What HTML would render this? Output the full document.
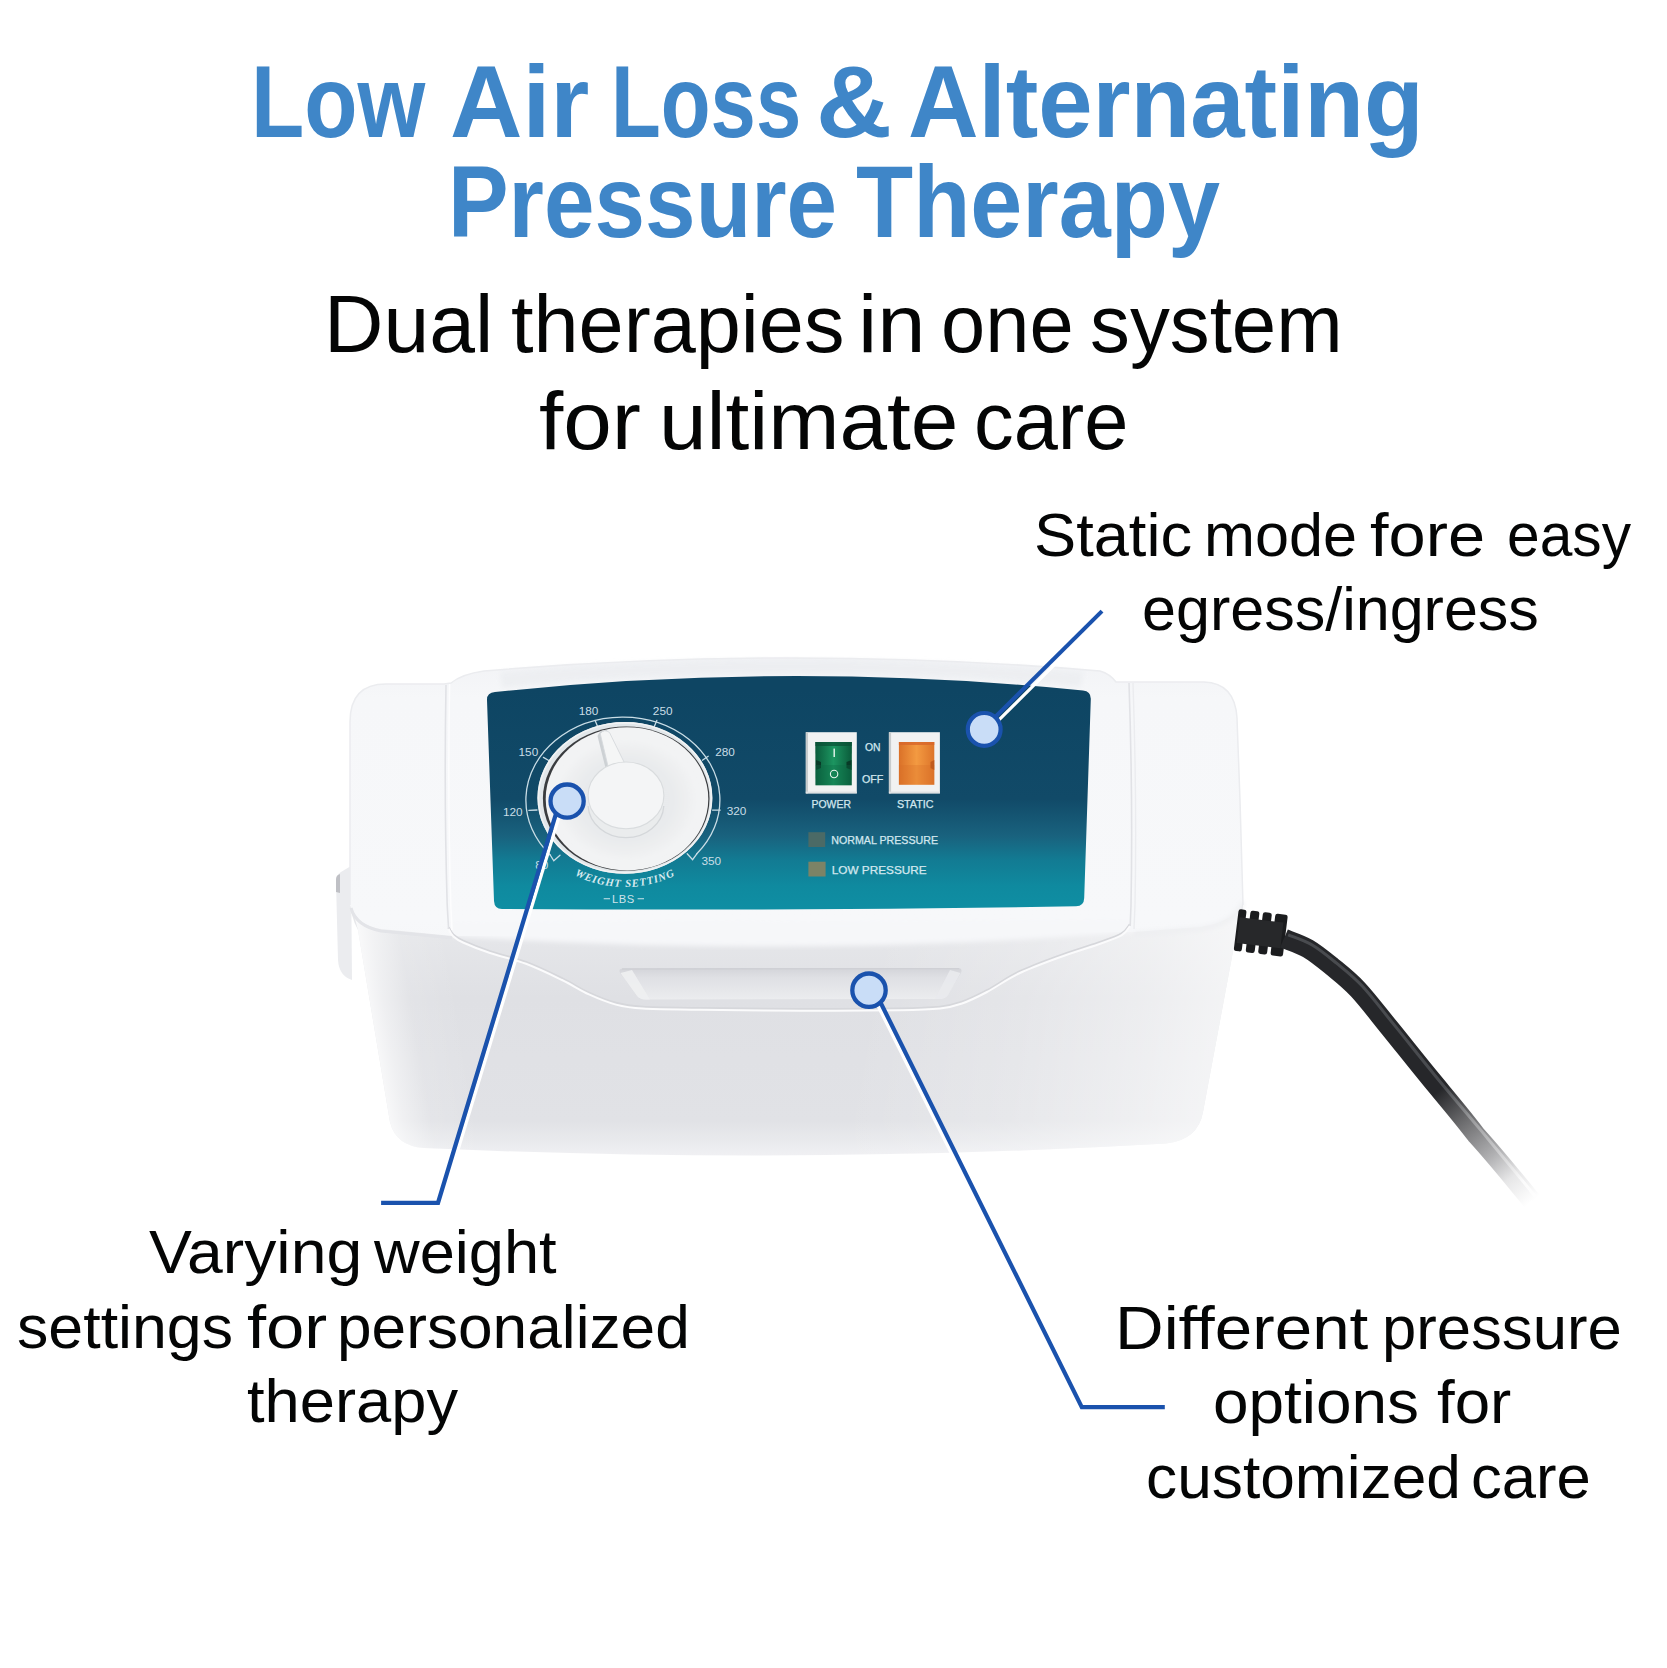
<!DOCTYPE html>
<html lang="en">
<head>
<meta charset="utf-8">
<title>Low Air Loss &amp; Alternating Pressure Therapy</title>
<style>
html,body{margin:0;padding:0;background:#fff;}
body{width:1667px;height:1668px;position:relative;overflow:hidden;font-family:"Liberation Sans",sans-serif;}
.t{position:absolute;white-space:nowrap;transform-origin:0 0;color:#040505;margin:0;}
.h{font-weight:700;font-size:102px;line-height:102px;color:#3f86c8;}
.s{font-weight:400;font-size:82px;line-height:82px;}
.c{font-weight:400;font-size:61px;line-height:61px;}
#art{position:absolute;left:0;top:0;width:1667px;height:1668px;}
</style>
</head>
<body>
<svg id="art" width="1667" height="1668" viewBox="0 0 1667 1668">
<defs>
  <linearGradient id="gPanel" x1="0" y1="690" x2="0" y2="908" gradientUnits="userSpaceOnUse">
    <stop offset="0" stop-color="#0e4563"/>
    <stop offset="0.5" stop-color="#114a68"/>
    <stop offset="0.67" stop-color="#19627e"/>
    <stop offset="0.78" stop-color="#127b93"/>
    <stop offset="0.9" stop-color="#0f8a9f"/>
    <stop offset="1" stop-color="#0f8ea3"/>
  </linearGradient>
  <linearGradient id="gFront" x1="0" y1="930" x2="0" y2="1155" gradientUnits="userSpaceOnUse">
    <stop offset="0" stop-color="#e6e7ea"/>
    <stop offset="0.3" stop-color="#dfe0e4"/>
    <stop offset="0.85" stop-color="#e1e2e6"/>
    <stop offset="0.94" stop-color="#e9eaed"/>
    <stop offset="1" stop-color="#f0f0f3"/>
  </linearGradient>
  <linearGradient id="gFL" x1="202.7" y1="0" x2="292.7" y2="0" gradientUnits="userSpaceOnUse" gradientTransform="skewX(9.48)">
    <stop offset="0" stop-color="#ffffff" stop-opacity="0.75"/>
    <stop offset="0.15" stop-color="#ffffff" stop-opacity="0.5"/>
    <stop offset="0.45" stop-color="#ffffff" stop-opacity="0.12"/>
    <stop offset="1" stop-color="#ffffff" stop-opacity="0"/>
  </linearGradient>
  <linearGradient id="gFR" x1="1050.9" y1="0" x2="1410.9" y2="0" gradientUnits="userSpaceOnUse" gradientTransform="skewX(-10.6)">
    <stop offset="0" stop-color="#ffffff" stop-opacity="0"/>
    <stop offset="0.45" stop-color="#ffffff" stop-opacity="0.2"/>
    <stop offset="0.8" stop-color="#ffffff" stop-opacity="0.45"/>
    <stop offset="1" stop-color="#ffffff" stop-opacity="0.62"/>
  </linearGradient>
  <linearGradient id="gRecess" x1="0" y1="968" x2="0" y2="1000" gradientUnits="userSpaceOnUse">
    <stop offset="0" stop-color="#d3d4d9"/>
    <stop offset="0.3" stop-color="#dfe0e4"/>
    <stop offset="0.7" stop-color="#e6e7ea"/>
    <stop offset="1" stop-color="#ecedef"/>
  </linearGradient>
  <linearGradient id="gTop" x1="0" y1="655" x2="0" y2="1010" gradientUnits="userSpaceOnUse">
    <stop offset="0" stop-color="#f1f2f5"/>
    <stop offset="0.12" stop-color="#f6f7f9"/>
    <stop offset="0.75" stop-color="#f7f8fa"/>
    <stop offset="1" stop-color="#f3f4f6"/>
  </linearGradient>
  <linearGradient id="gCable" x1="1440" y1="1090" x2="1530" y2="1203" gradientUnits="userSpaceOnUse">
    <stop offset="0" stop-color="#26272a"/>
    <stop offset="0.28" stop-color="#6e6e70"/>
    <stop offset="0.58" stop-color="#b0b0b2"/>
    <stop offset="0.78" stop-color="#e6e6e7"/>
    <stop offset="1" stop-color="#ffffff"/>
  </linearGradient>
  <linearGradient id="gCableHi" x1="1440" y1="1090" x2="1530" y2="1203" gradientUnits="userSpaceOnUse">
    <stop offset="0" stop-color="#55585c"/>
    <stop offset="0.28" stop-color="#a5a6a8"/>
    <stop offset="0.58" stop-color="#d6d6d7"/>
    <stop offset="0.85" stop-color="#ffffff"/>
    <stop offset="1" stop-color="#ffffff"/>
  </linearGradient>
  <radialGradient id="gKnob" cx="626" cy="800" r="82" gradientUnits="userSpaceOnUse" gradientTransform="translate(0 108) scale(1 0.865)">
    <stop offset="0" stop-color="#eaecee"/>
    <stop offset="0.55" stop-color="#e8eaec"/>
    <stop offset="0.8" stop-color="#f0f1f2"/>
    <stop offset="1" stop-color="#f4f5f6"/>
  </radialGradient>
  <linearGradient id="gGreen" x1="815" y1="0" x2="852" y2="0" gradientUnits="userSpaceOnUse">
    <stop offset="0" stop-color="#0a5a3a"/>
    <stop offset="0.5" stop-color="#1c9560"/>
    <stop offset="1" stop-color="#0a5a3a"/>
  </linearGradient>
  <linearGradient id="gOrange" x1="898" y1="0" x2="935" y2="0" gradientUnits="userSpaceOnUse">
    <stop offset="0" stop-color="#d96f27"/>
    <stop offset="0.5" stop-color="#f39a41"/>
    <stop offset="1" stop-color="#dc7329"/>
  </linearGradient>
  <filter id="soft" x="-5%" y="-5%" width="110%" height="110%"><feGaussianBlur stdDeviation="0.6"/></filter>
  <filter id="soft2" x="-10%" y="-10%" width="120%" height="120%"><feGaussianBlur stdDeviation="2.5"/></filter>
  <filter id="soft3" x="-10%" y="-10%" width="120%" height="120%"><feGaussianBlur stdDeviation="6"/></filter>
</defs>
<!--DEFS-END-->
<g id="device">
  <!-- far-left latch -->
  <path d="M351 866 L341 872 Q336 875 336 882 L338 960 Q339 976 352 980 Z" fill="#ebecef"/>
  <path d="M340 874 L338 875 Q336 876 336 880 L336 892 L340 893 Z" fill="#bfc0c5" filter="url(#soft)"/>
  <!-- body silhouette / front face -->
  <path id="sil" d="M350 722 Q350 684 386 684 L444 684 L451 683 Q462 674 484 671 Q792 645 1100 671 Q1110 674 1116 682 L1204 682 Q1235 683 1237 718 L1240 800 L1243 905 Q1243 920 1237 930 L1203 1112 Q1198 1140 1166 1143.5 Q800 1165 424 1148 Q396 1146 390 1122 L358 930 Q350 915 350 900 Z" fill="url(#gFront)"/>
  <path d="M350 900 L358 930 L390 1122 Q396 1146 424 1148 Q800 1165 1166 1143.5 Q1198 1140 1203 1112 L1237 930 L1243 900 Z" fill="url(#gFL)"/>
  <path d="M350 900 L358 930 L390 1122 Q396 1146 424 1148 Q800 1165 1166 1143.5 Q1198 1140 1203 1112 L1237 930 L1243 900 Z" fill="url(#gFR)"/>
  <!-- top face (brighter) -->
  <path id="topface" d="M350 722 Q350 684 386 684 L444 684 L451 683 Q462 674 484 671 Q792 645 1100 671 Q1110 674 1116 682 L1204 682 Q1235 683 1237 718 L1240 800 L1243 900 Q1238 921 1200 927 L1134 932 L452 936 L381 929 Q355 925 350 905 Z" fill="url(#gTop)"/>
  <!-- soft bevel between top face and front in the centre -->
  <path d="M452 922 L1134 920 L1134 932 Q793 959 452 936 Z" fill="#f6f7f9" filter="url(#soft2)"/>
  <!-- region between bevel and groove slightly lighter -->
  <!-- bevel under top edge -->
  <path d="M500 672 Q792 647 1084 672 L1080 687 Q790 660 502 688 Z" fill="#eceef1" opacity="0.85" filter="url(#soft2)"/>
  <!-- groove (wave) highlight + shadow -->
  <path d="M448.6 929.0 C449.3 930.2 450.6 933.8 453.0 936.0 C455.4 938.2 456.8 939.7 463.0 942.5 C469.2 945.3 479.5 949.5 490.0 953.0 C500.5 956.5 514.0 959.3 526.0 963.8 C538.0 968.3 551.5 974.9 562.0 980.0 C572.5 985.1 580.0 990.3 589.0 994.4 C598.0 998.5 607.0 1002.2 616.0 1004.6 C625.0 1007.0 629.0 1007.7 643.0 1008.6 C657.0 1009.5 673.8 1009.4 700.0 1009.8 C726.2 1010.2 766.7 1010.7 800.0 1010.8 C833.3 1010.9 876.7 1010.7 900.0 1010.3 C923.3 1009.9 929.7 1009.6 940.0 1008.5 C950.3 1007.4 954.2 1006.2 962.0 1003.5 C969.8 1000.8 977.5 997.0 987.0 992.0 C996.5 987.0 1006.9 979.2 1018.8 973.5 C1030.7 967.8 1045.2 962.5 1058.4 957.7 C1071.6 952.9 1087.5 948.2 1098.0 944.5 C1108.5 940.8 1116.4 938.3 1121.7 935.2 C1127.0 932.1 1128.6 927.5 1130.0 926.0" fill="none" stroke="#d6d7db" stroke-width="2.4" transform="translate(0 -1.6)" filter="url(#soft)"/>
  <path d="M448.6 929.0 C449.3 930.2 450.6 933.8 453.0 936.0 C455.4 938.2 456.8 939.7 463.0 942.5 C469.2 945.3 479.5 949.5 490.0 953.0 C500.5 956.5 514.0 959.3 526.0 963.8 C538.0 968.3 551.5 974.9 562.0 980.0 C572.5 985.1 580.0 990.3 589.0 994.4 C598.0 998.5 607.0 1002.2 616.0 1004.6 C625.0 1007.0 629.0 1007.7 643.0 1008.6 C657.0 1009.5 673.8 1009.4 700.0 1009.8 C726.2 1010.2 766.7 1010.7 800.0 1010.8 C833.3 1010.9 876.7 1010.7 900.0 1010.3 C923.3 1009.9 929.7 1009.6 940.0 1008.5 C950.3 1007.4 954.2 1006.2 962.0 1003.5 C969.8 1000.8 977.5 997.0 987.0 992.0 C996.5 987.0 1006.9 979.2 1018.8 973.5 C1030.7 967.8 1045.2 962.5 1058.4 957.7 C1071.6 952.9 1087.5 948.2 1098.0 944.5 C1108.5 940.8 1116.4 938.3 1121.7 935.2 C1127.0 932.1 1128.6 927.5 1130.0 926.0" fill="none" stroke="#fbfbfc" stroke-width="2"/>
  <!-- cap front-edge soft shadow -->
  <path d="M351 908 Q356 926 381 931 L452 938" fill="none" stroke="#e3e4e8" stroke-width="3" filter="url(#soft)"/>
  <path d="M1134 934 L1200 929 Q1236 923 1243 902" fill="none" stroke="#ecedf0" stroke-width="3" filter="url(#soft2)"/>
  <!-- seams -->
  <path d="M446 685 Q444 800 447.2 905 L448.6 929" fill="none" stroke="#e1e2e6" stroke-width="1.6"/>
  <path d="M449.6 684 Q447.6 800 450.8 905 L452 930" fill="none" stroke="#fdfdfe" stroke-width="1.5"/>
  <path d="M1129 683 Q1133 800 1131 905 L1130.2 926" fill="none" stroke="#e1e2e6" stroke-width="1.6"/>
  <path d="M1133 683 Q1137 800 1135 905 L1134 929" fill="none" stroke="#ebecef" stroke-width="1.4"/>
  <!-- subtle silhouette edge -->
  <path d="M350 905 L350 722 Q350 684 386 684 L444 684 L451 683 Q462 674 484 671 Q792 645 1100 671 Q1110 674 1116 682 L1204 682 Q1235 683 1237 718 L1240 800 L1243 905" fill="none" stroke="#ebecef" stroke-width="1.5"/>
  <!-- handle recess -->
  <path d="M623 968.6 L958 968 Q963.5 968.5 960.5 974 L948 995 Q945.5 999 939 999 L646 999.5 Q639 999.3 636.5 995 L620.5 974 Q617.5 968.8 623 968.6 Z" fill="url(#gRecess)"/>
  <path d="M620.5 973 L636.5 995 Q639 999.3 646 999.5 L650 999.5 L632 970 Z" fill="#eeeff1" opacity="0.9"/>
  <path d="M960.5 973 L948 995 Q945.5 999 939 999 L935 999 L950 970 Z" fill="#e9eaed" opacity="0.9"/>
  <path d="M622 969 L959 968.4" fill="none" stroke="#cfd0d5" stroke-width="1.6" filter="url(#soft)"/>
</g>
<g id="panel">
  <!-- teal label -->
  <path d="M495 692 Q790 661 1083 690.5 Q1091 691.5 1090.8 699 L1084.2 898 Q1084 906 1076 906.3 Q790 911 502 909 Q494.5 909 494 901 L487 700 Q486.8 692.6 495 692 Z" fill="url(#gPanel)"/>
  <!-- dial scale -->
  <g fill="none" stroke="#c9dde6" stroke-width="1.3" stroke-linecap="round">
    <path d="M550.2 855 A97 83 0 1 1 696.8 853.8"/>
    <path d="M550.2 855 L553.8 860.8 L560 855.3"/>
    <path d="M696.8 853.8 L692.6 859.7 L687.2 853.8"/>
    <path d="M528.9 810.4 L537 810"/>
    <path d="M543.4 757.4 L550 761.2"/>
    <path d="M595.1 720.4 L597.6 726.6"/>
    <path d="M656.8 720.4 L654.3 726.6"/>
    <path d="M708.2 756.3 L702.4 760.2"/>
    <path d="M720.2 810.1 L712.5 810.1"/>
  </g>
  <g font-family="'Liberation Sans',sans-serif" font-size="11.8" fill="#c9dde6" text-anchor="middle">
    <text x="588.6" y="714.8">180</text>
    <text x="662.7" y="714.5">250</text>
    <text x="528.4" y="756.3">150</text>
    <text x="725.1" y="755.8">280</text>
    <text x="512.8" y="815.5">120</text>
    <text x="736.6" y="814.6">320</text>
    <text x="711.3" y="864.5">350</text>
    <text x="541.8" y="868.9">80</text>
  </g>
  <!-- knob -->
  <ellipse cx="624.9" cy="797.9" rx="87.5" ry="75.9" fill="#e2e7ea"/>
  <ellipse cx="624.9" cy="797.9" rx="86.6" ry="75" fill="none" stroke="#f1f3f4" stroke-width="1.6"/>
  <ellipse cx="626.2" cy="798.6" rx="83.3" ry="72.2" fill="#3a3c3f"/>
  <ellipse cx="627.0" cy="798.8" rx="81.3" ry="71.6" fill="#f2f3f4"/>
  <ellipse cx="626.7" cy="800" rx="68" ry="58" fill="url(#gKnob)" filter="url(#soft2)"/>
  <!-- cap wall -->
  <path d="M588.1 795.4 L588.1 806 A37.9 33.4 0 0 0 663.8 806 L663.8 795.4 Z" fill="#eaeced"/>
  <path d="M588.1 806 A37.9 33.4 0 0 0 663.8 806" fill="none" stroke="#d4d7da" stroke-width="1.3"/>
  <!-- pointer -->
  <path d="M597.5 736 Q600 729 607 730 L613 768 L606 770 Z" fill="#cdd1d4" filter="url(#soft)"/>
  <path d="M600.2 733.5 Q604.5 728.5 609.5 732.5 L625.5 765 L609 770.5 Z" fill="#f5f6f6" stroke="#d6d9dc" stroke-width="0.9"/>
  <ellipse cx="626" cy="795.4" rx="37.9" ry="33.4" fill="#f4f5f6" stroke="#d9dcde" stroke-width="1.1"/>
  <!-- weight setting text -->
  <path id="wsArc" d="M543 850 A101 89 0 0 0 707 850" fill="none"/>
  <text font-family="'Liberation Serif',serif" font-weight="700" font-style="italic" font-size="10.8" fill="#d8eaef" letter-spacing="0.85"><textPath href="#wsArc" startOffset="50%" text-anchor="middle">WEIGHT SETTING</textPath></text>
  <text x="623.3" y="902.6" font-family="'Liberation Sans',sans-serif" font-size="11.2" fill="#cfe3ea" text-anchor="middle" letter-spacing="0.5">LBS</text>
  <path d="M603.7 898.8 H610 M637.6 898.8 H644" stroke="#cfe3ea" stroke-width="1.1" fill="none"/>
</g>
<g id="switches">
  <!-- power -->
  <rect x="805.8" y="732.2" width="51" height="61.2" fill="#f1f2f2"/>
  <rect x="805.8" y="732.2" width="2.2" height="61.2" fill="#c8cccd"/>
  <rect x="805.8" y="791.6" width="51" height="1.8" fill="#dfe2e3"/>
  <path d="M815.3 741.9 L851.9 741.9 L851.7 785.3 L815.5 785.3 Z" fill="url(#gGreen)"/>
  <path d="M815.3 741.9 L851.9 741.9 L851.7 746 L815.4 746 Z" fill="#0a4f34" opacity="0.7"/>
  <path d="M816 760 L821 762 L821 768 L816 770 Z M851.5 760 L846.5 762 L846.5 768 L851.5 770 Z" fill="#083a27"/>
  <rect x="815.5" y="765" width="36.3" height="20.3" fill="#0c6a45" opacity="0.35"/>
  <rect x="833.5" y="748.6" width="1.4" height="8.4" fill="#e8f5ee"/>
  <circle cx="834.1" cy="774" r="3.7" fill="none" stroke="#e8f5ee" stroke-width="1.1"/>
  <!-- static -->
  <rect x="888.9" y="732.2" width="51" height="61.2" fill="#f1f2f2"/>
  <rect x="888.9" y="732.2" width="2.2" height="61.2" fill="#c8cccd"/>
  <rect x="888.9" y="791.6" width="51" height="1.8" fill="#dfe2e3"/>
  <path d="M898.9 741.9 L934.3 741.9 L934.3 784.8 L898.9 784.8 Z" fill="url(#gOrange)"/>
  <path d="M898.9 741.9 L934.3 741.9 L934.3 745 L898.9 745 Z" fill="#d7662a" opacity="0.8"/>
  <rect x="898.9" y="765" width="35.4" height="19.8" fill="#d86e28" opacity="0.3"/>
  <path d="M934.3 760 L930.5 762 L930.5 768 L934.3 770 Z" fill="#b9551c" opacity="0.8"/>
  <!-- leds -->
  <rect x="808.4" y="832.2" width="16.8" height="14.8" fill="#4b6a66"/>
  <rect x="808.4" y="861.7" width="17.2" height="14.8" fill="#7c8366"/>
  <!-- labels -->
  <g font-family="'Liberation Sans',sans-serif" font-size="10" fill="#d2e7ee" stroke="#d2e7ee" stroke-width="0.25">
    <text x="864.9" y="750.8" textLength="15.6" lengthAdjust="spacingAndGlyphs">ON</text>
    <text x="861.9" y="782.6" textLength="21.4" lengthAdjust="spacingAndGlyphs">OFF</text>
    <text x="811.6" y="807.9" textLength="39.3" lengthAdjust="spacingAndGlyphs">POWER</text>
    <text x="896.9" y="807.9" textLength="36.7" lengthAdjust="spacingAndGlyphs">STATIC</text>
    <text x="831.3" y="843.9" textLength="106.8" lengthAdjust="spacingAndGlyphs">NORMAL PRESSURE</text>
    <text x="831.8" y="873.5" textLength="94.8" lengthAdjust="spacingAndGlyphs">LOW PRESSURE</text>
  </g>
</g>
<g id="cable">
  <!-- strain relief -->
  <g transform="rotate(7 1262 933)">
    <rect x="1236" y="912" width="8" height="42" rx="2.5" fill="#1b1c1e"/>
    <rect x="1248" y="912" width="9" height="42" rx="2.5" fill="#1b1c1e"/>
    <rect x="1260.5" y="912" width="9" height="42" rx="2.5" fill="#1b1c1e"/>
    <rect x="1273" y="912" width="12.5" height="42" rx="2.5" fill="#1b1c1e"/>
    <rect x="1238" y="920" width="44" height="26" fill="#27282a"/>
  </g>
  <path id="cablePath" d="M1284.0 938.5 C1288.0 940.2 1300.0 943.9 1308.0 948.6 C1316.0 953.3 1323.7 959.7 1332.0 966.5 C1340.3 973.3 1348.4 979.4 1358.0 989.6 C1367.6 999.9 1377.4 1013.0 1389.6 1028.0 C1401.8 1043.0 1416.8 1062.0 1431.4 1079.8 C1446.0 1097.5 1462.8 1117.1 1476.2 1135.0 C1491.6 1151.9 1507.4 1171.1 1518.0 1184.0 C1528.6 1196.9 1537.2 1207.3 1541.0 1212.0" fill="none" stroke="url(#gCable)" stroke-width="19.5" stroke-linecap="butt"/>
  <path d="M1288.2 934.9 C1292.2 936.6 1304.2 940.3 1312.2 945.0 C1320.2 949.7 1327.9 956.1 1336.2 962.9 C1344.5 969.7 1352.6 975.8 1362.2 986.0 C1371.8 996.2 1381.6 1009.4 1393.8 1024.4 C1406.0 1039.4 1421.0 1058.5 1435.6 1076.2 C1450.2 1094.0 1467.0 1113.5 1481.4 1130.9 C1495.8 1148.3 1511.6 1167.5 1522.2 1180.4 C1532.8 1193.3 1541.4 1203.7 1545.2 1208.4" fill="none" stroke="url(#gCableHi)" stroke-width="3" opacity="0.75" filter="url(#soft)"/>
</g>
<!--SWITCHES-END-->
<g id="callouts" fill="none" stroke-linecap="butt" stroke-linejoin="miter">
  <!-- white edge lines -->
  <path d="M560.2 812.6 L442.4 1201" stroke="#ffffff" stroke-width="3.4"/>
  <path d="M986.6 732.2 L1104.9 614.3" stroke="#ffffff" stroke-width="3.2"/>
  <path d="M873.6 997 L1060 1371.7" stroke="#ffffff" stroke-width="3.2"/>
  <!-- blue lines -->
  <path d="M556.5 812 L438 1202.8 L381.1 1202.8" stroke="#1a52ad" stroke-width="4.3"/>
  <path d="M983.5 728.7 L1102 611.1" stroke="#1a52ad" stroke-width="4.1"/>
  <path d="M877 995.4 L1081.8 1407.1 L1164.8 1407.1" stroke="#1a52ad" stroke-width="4.2"/>
  <!-- markers -->
  <circle cx="567.1" cy="801.1" r="16.6" fill="#c9ddf7" stroke="#1a52ad" stroke-width="4.3"/>
  <circle cx="984.2" cy="729.4" r="16.4" fill="#c9ddf7" stroke="#1a52ad" stroke-width="4.2"/>
  <circle cx="869" cy="990.2" r="16.7" fill="#c9ddf7" stroke="#1a52ad" stroke-width="4.3"/>
</g>
<!--CALLOUTS-END-->
</svg>

<div class="t h" style="left:250.8px;top:51.2px;transform:scaleX(0.8548)">Low</div>
<div class="t h" style="left:449.9px;top:51.2px;transform:scaleX(0.9832)">Air</div>
<div class="t h" style="left:610.9px;top:51.2px;transform:scaleX(0.7991)">Loss</div>
<div class="t h" style="left:816.1px;top:51.2px;transform:scaleX(1.0308)">&amp;</div>
<div class="t h" style="left:907.8px;top:51.2px;transform:scaleX(0.9578)">Alternating</div>
<div class="t h" style="left:447.8px;top:151.3px;transform:scaleX(0.8911)">Pressure</div>
<div class="t h" style="left:856.1px;top:151.3px;transform:scaleX(0.9172)">Therapy</div>
<div class="t s" style="left:323.9px;top:282.9px;transform:scaleX(1.0032)">Dual</div>
<div class="t s" style="left:510.6px;top:282.9px;transform:scaleX(0.9886)">therapies</div>
<div class="t s" style="left:858.4px;top:282.9px;transform:scaleX(1.0574)">in</div>
<div class="t s" style="left:941.4px;top:282.9px;transform:scaleX(0.9692)">one</div>
<div class="t s" style="left:1090.2px;top:282.9px;transform:scaleX(0.9730)">system</div>
<div class="t s" style="left:539.1px;top:380.4px;transform:scaleX(1.0656)">for</div>
<div class="t s" style="left:659.3px;top:380.4px;transform:scaleX(1.0428)">ultimate</div>
<div class="t s" style="left:974.0px;top:380.4px;transform:scaleX(0.9678)">care</div>
<div class="t c" style="left:1034.4px;top:504.9px;transform:scaleX(1.0358)">Static</div>
<div class="t c" style="left:1204.2px;top:504.9px;transform:scaleX(1.0027)">mode</div>
<div class="t c" style="left:1370.2px;top:504.9px;transform:scaleX(1.0950)">fore</div>
<div class="t c" style="left:1506.9px;top:504.9px;transform:scaleX(0.9624)">easy</div>
<div class="t c" style="left:1142.0px;top:578.9px;transform:scaleX(1.0005)">egress/ingress</div>
<div class="t c" style="left:149.0px;top:1222.2px;transform:scaleX(1.0535)">Varying</div>
<div class="t c" style="left:373.6px;top:1222.2px;transform:scaleX(1.0358)">weight</div>
<div class="t c" style="left:17.3px;top:1296.8px;transform:scaleX(1.0277)">settings</div>
<div class="t c" style="left:247.2px;top:1296.8px;transform:scaleX(1.1275)">for</div>
<div class="t c" style="left:337.1px;top:1296.8px;transform:scaleX(1.0198)">personalized</div>
<div class="t c" style="left:247.3px;top:1371.2px;transform:scaleX(1.0371)">therapy</div>
<div class="t c" style="left:1115.3px;top:1298.4px;transform:scaleX(1.1040)">Different</div>
<div class="t c" style="left:1382.1px;top:1298.4px;transform:scaleX(1.0100)">pressure</div>
<div class="t c" style="left:1212.9px;top:1372.4px;transform:scaleX(1.0476)">options</div>
<div class="t c" style="left:1437.1px;top:1372.4px;transform:scaleX(1.0435)">for</div>
<div class="t c" style="left:1145.7px;top:1447.4px;transform:scaleX(1.0209)">customized</div>
<div class="t c" style="left:1471.1px;top:1447.4px;transform:scaleX(1.0097)">care</div>
</body>
</html>
